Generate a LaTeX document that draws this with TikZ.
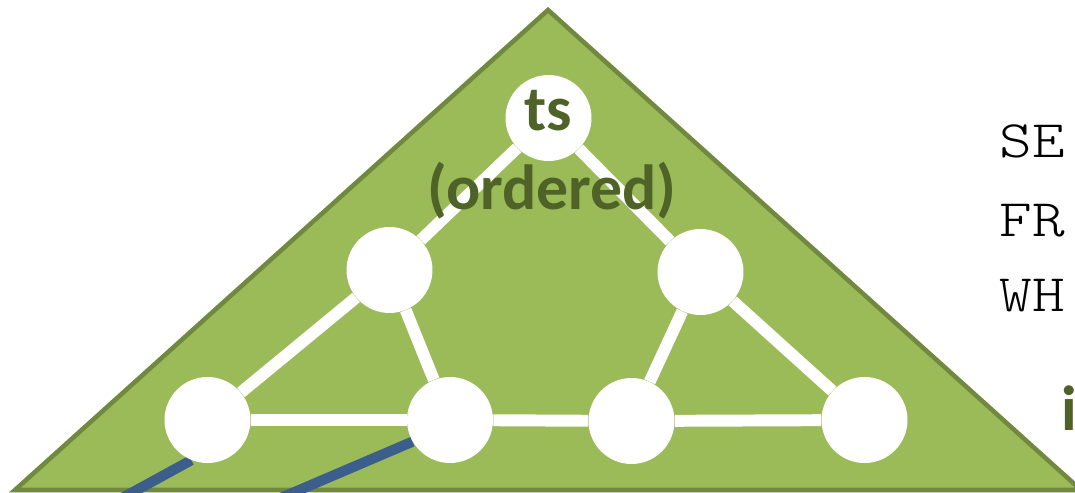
\documentclass[tikz,border=0pt]{standalone}
\usepackage{fontspec}
\newfontfamily\calfont{Carlito}
\newfontfamily\lmlight{lmmonolt10-regular.otf}[FakeStretch=1.18]
\definecolor{trifill}{HTML}{9BBB59}
\definecolor{triedge}{HTML}{71893F}
\definecolor{txtgreen}{HTML}{4F6228}
\definecolor{blueln}{HTML}{3B5E8C}
\pgfdeclarelayer{bg}
\pgfsetlayers{bg,main}
\begin{document}
\begin{tikzpicture}[x=0.02cm,y=-0.02cm,
  vert/.style={circle,fill=white,minimum size=1.72cm,inner sep=0pt},
  edge/.style={white,line width=6.8pt},
  blueedge/.style={blueln,line width=5.8pt},
  lbl/.style={text=txtgreen,inner sep=0pt,anchor=base,font=\calfont\bfseries\fontsize{36.3}{40}\selectfont},
  code/.style={inner sep=0pt,anchor=base west,font=\lmlight\fontsize{30}{34}\selectfont}]
\useasboundingbox (0,0) rectangle (1075,493);
% vertices
\node[vert] (t)  at (548.5,118) {};
\node[vert] (l)  at (389.5,270) {};
\node[vert] (r)  at (700.5,272) {};
\node[vert] (b1) at (207.5,420) {};
\node[vert] (b2) at (450,420) {};
\node[vert] (b3) at (631.5,421) {};
\node[vert] (b4) at (864.5,420) {};
\coordinate (c1) at (82,520);
\coordinate (c2) at (235,517.5);
\begin{pgfonlayer}{bg}
  \draw[triedge,fill=trifill,line width=2.6pt] (548,10) -- (1081,490) -- (15,490) -- cycle;
  \draw[edge] (t) -- (l);
  \draw[edge] (t) -- (r);
  \draw[edge] (l) -- (b1);
  \draw[edge] (l) -- (b2);
  \draw[edge] (r) -- (b3);
  \draw[edge] (r) -- (b4);
  \draw[edge] (b1) -- (b2);
  \draw[edge] (b2) -- (b3);
  \draw[edge] (b3) -- (b4);
  \draw[blueedge] (b1.248) -- (c1);
  \draw[blueedge] (b2.210) -- (c2);
\end{pgfonlayer}
% labels
\node[lbl] (tsl) at (548,131) {ts};
\node[lbl] (ord) at (552,210) {(ordered)};
\node[lbl,anchor=base west] (il) at (1061,430) {i};
\node[code] (se) at (999,158) {SE};
\node[code] (fr) at (999,236) {FR};
\node[code] (wh) at (999,312) {WH};
\end{tikzpicture}
\end{document}
